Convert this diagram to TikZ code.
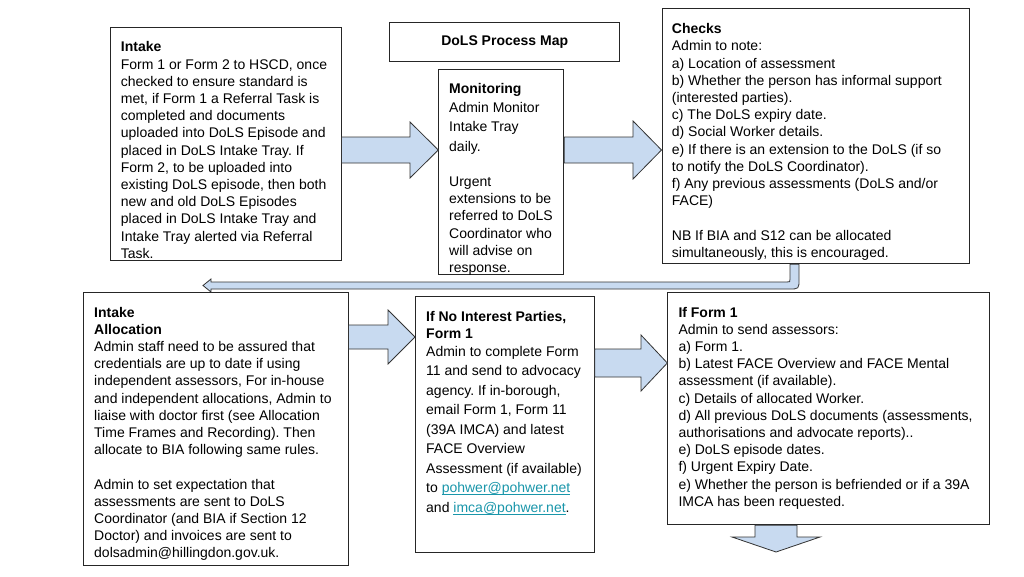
\documentclass[tikz,border=0pt]{standalone}
\usepackage{fontspec}
\setmainfont{Liberation Sans}
\usetikzlibrary{calc}
\definecolor{arrowfill}{RGB}{200,218,240}
\definecolor{linkcol}{RGB}{25,150,170}
\newcommand\myul[1]{\setbox0\hbox{#1}\rlap{\rule[-1.9pt]{\wd0}{0.6pt}}\box0}
\frenchspacing
\begin{document}
\frenchspacing
\begin{tikzpicture}[x=1pt,y=-1pt,
  box/.style={draw=black!85, line width=0.8pt, fill=white, inner sep=0pt, anchor=north west},
  txt/.style={anchor=north west, inner sep=0pt, align=left, font=\fontsize{14}{17.2}\selectfont},
  barrow/.style={draw=black!80, line width=0.8pt, fill=arrowfill, line join=miter}]
\useasboundingbox[fill=white] (0,0) rectangle (1024,576);

% boxes
\node[box, minimum width=230.7pt, minimum height=233pt] (intake) at (110,27) {};
\node[box, minimum width=230pt, minimum height=39pt, font=\fontsize{14}{17.2}\selectfont\bfseries] (title) at (389.3,21.7) {DoLS Process Map};
\node[box, minimum width=125pt, minimum height=205pt] (monitoring) at (438.3,69) {};
\node[box, minimum width=307pt, minimum height=255pt] (checks) at (661.5,8.3) {};
\node[box, minimum width=264.4pt, minimum height=273pt] (intakealloc) at (83.3,292.3) {};
\node[box, minimum width=179pt, minimum height=256pt] (ifno) at (415,296) {};
\node[box, minimum width=321.7pt, minimum height=232.6pt] (ifform1) at (667.3,291.7) {};

% texts
\node[txt] (intaketxt) at ([shift={(10.7,14.5)}]intake.north west) {\textbf{Intake}\\
Form 1 or Form 2 to HSCD, once\\
checked to ensure standard is\\
met, if Form 1 a Referral Task is\\
completed and documents\\
uploaded into DoLS Episode and\\
placed in DoLS Intake Tray. If\\
Form 2, to be uploaded into\\
existing DoLS episode, then both\\
new and old DoLS Episodes\\
placed in DoLS Intake Tray and\\
Intake Tray alerted via Referral\\
Task.};

\node[txt] (monitoringtxt) at ([shift={(10.7,14.5)}]monitoring.north west) {\textbf{Monitoring}\\[1pt]
Admin Monitor\\[2pt]
Intake Tray\\[3pt]
daily.\\[17.8pt]
Urgent\\
extensions to be\\
referred to DoLS\\
Coordinator who\\
will advise on\\
response.};

\node[txt] (checkstxt) at ([shift={(10.2,15)}]checks.north west) {\textbf{Checks}\\
Admin to note:\\
a) Location of assessment\\
b) Whether the person has informal support\\
(interested parties).\\
c) The DoLS expiry date.\\
d) Social Worker details.\\
e) If there is an extension to the DoLS (if so\\
to notify the DoLS Coordinator).\\
f) Any previous assessments (DoLS and/or\\
FACE)\\[17.2pt]
NB If BIA and S12 can be allocated\\
simultaneously, this is encouraged.};

\node[txt] (intakealloctxt) at ([shift={(10.7,14.5)}]intakealloc.north west) {\textbf{Intake}\\
\textbf{Allocation}\\
Admin staff need to be assured that\\
credentials are up to date if using\\
independent assessors, For in-house\\
and independent allocations, Admin to\\
liaise with doctor first (see Allocation\\
Time Frames and Recording). Then\\
allocate to BIA following same rules.\\[17.2pt]
Admin to set expectation that\\
assessments are sent to DoLS\\
Coordinator (and BIA if Section 12\\
Doctor) and invoices are sent to\\
dolsadmin@hillingdon.gov.uk.};

\node[txt] (ifnotxt) at ([shift={(11,14.7)}]ifno.north west) {\textbf{If No Interest Parties,}\\
\textbf{Form 1}\\[1pt]
Admin to complete Form\\[2.3pt]
11 and send to advocacy\\[2.3pt]
agency. If in-borough,\\[2.3pt]
email Form 1, Form 11\\[2.3pt]
(39A IMCA) and latest\\[2.3pt]
FACE Overview\\[2.3pt]
Assessment (if available)\\[2.3pt]
to \textcolor{linkcol}{\myul{pohwer@pohwer.net}}\\[2.3pt]
and \textcolor{linkcol}{\myul{imca@pohwer.net}}.};

\node[txt] (ifform1txt) at ([shift={(11,15)}]ifform1.north west) {\textbf{If Form 1}\\
Admin to send assessors:\\
a) Form 1.\\
b) Latest FACE Overview and FACE Mental\\
assessment (if available).\\
c) Details of allocated Worker.\\
d) All previous DoLS documents (assessments,\\
authorisations and advocate reports)..\\
e) DoLS episode dates.\\
f) Urgent Expiry Date.\\
e) Whether the person is befriended or if a 39A\\
IMCA has been requested.};

% block arrows
\draw[barrow] (intake.east |- 0,137) -- (410,137) -- (410,122) -- (monitoring.west |- 0,150)
  -- (410,178) -- (410,163) -- (intake.east |- 0,163) -- cycle;
\draw[barrow] (monitoring.east |- 0,137) -- (633,137) -- (633,121) -- (checks.west |- 0,150)
  -- (633,179) -- (633,163) -- (monitoring.east |- 0,163) -- cycle;
\draw[barrow] (intakealloc.east |- 0,325) -- (388,325) -- (388,310) -- (ifno.west |- 0,337)
  -- (388,364) -- (388,349) -- (intakealloc.east |- 0,349) -- cycle;
\draw[barrow] (ifno.east |- 0,349) -- (641,349) -- (641,335) -- (ifform1.west |- 0,363)
  -- (641,391) -- (641,377) -- (ifno.east |- 0,377) -- cycle;

% U-turn arrow from Checks back to Intake Allocation row
\coordinate (utip) at (203,285.5);
\draw[barrow] (checks.south -| 790,0) -- (790,279) .. controls (790,282) .. (787,282)
  -- (211,282) -- (211,279) -- (utip) -- (211,292) -- (211,289)
  -- (789,289) .. controls (799,289) .. (799,279) -- (checks.south -| 799,0) -- cycle;

% down arrow below If Form 1
\coordinate (dtip) at (776,552);
\draw[barrow] (ifform1.south -| 755,0) -- (755,537) -- (732,537) -- (dtip)
  -- (820,537) -- (797,537) -- (ifform1.south -| 797,0) -- cycle;
\end{tikzpicture}
\end{document}
